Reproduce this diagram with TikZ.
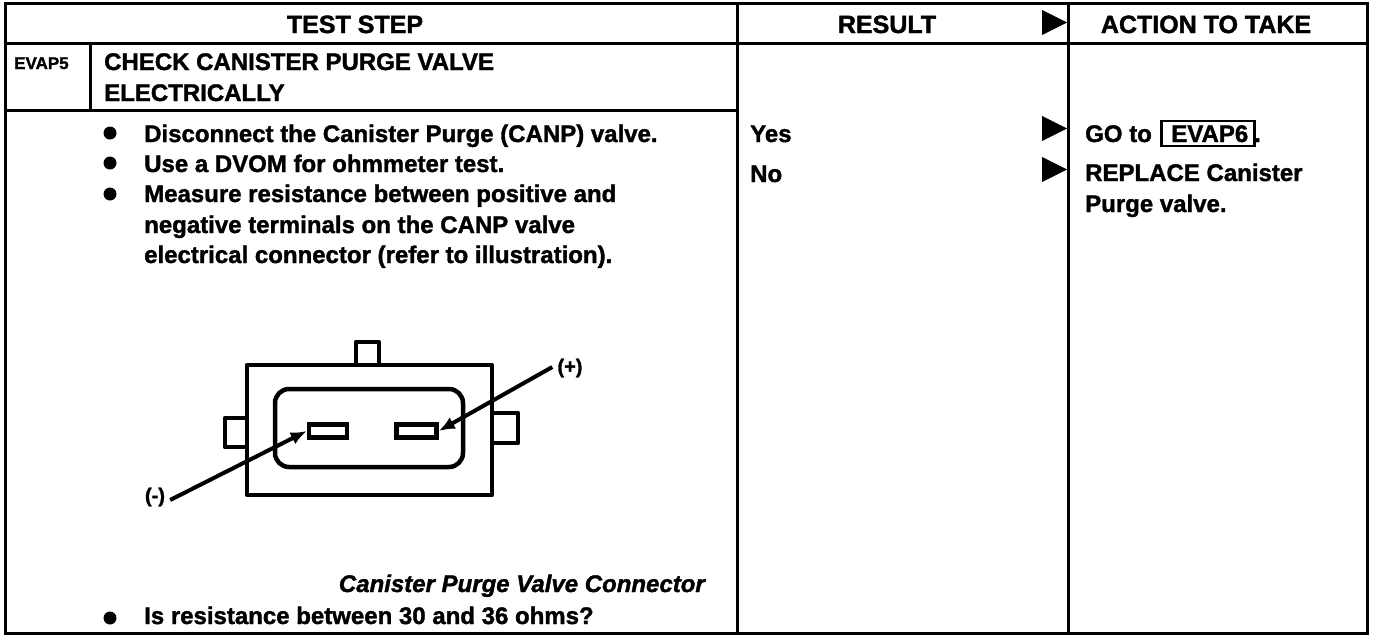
\documentclass[tikz,border=0pt]{standalone}
\usepackage{fontspec}
\setmainfont{Liberation Sans}[BoldFeatures={FakeBold=1.5},BoldItalicFeatures={FakeBold=1.5}]
\usetikzlibrary{arrows.meta}
\tikzset{
  rule/.style={line width=3pt,line cap=rect},
  txt/.style={inner sep=0pt,anchor=base west,font=\fontsize{24}{28}\selectfont\bfseries},
  head/.style={inner sep=0pt,anchor=base,font=\fontsize{25}{28}\selectfont\bfseries},
  bulletmark/.style={circle,fill=black,inner sep=0pt,minimum size=13pt},
  tri/.style={fill=black,draw=none},
  conn/.style={line width=4.5pt,line join=round},
  pin/.style={draw,line width=4.5pt,fill=white,inner sep=0pt,minimum width=38pt,minimum height=13pt},
  term/.style={inner sep=0pt,anchor=center,font=\fontsize{20}{24}\selectfont\bfseries},
  leader/.style={line width=4pt,-{Latex[length=16pt,width=13pt]}},
}
\begin{document}
\begin{tikzpicture}[x=1pt,y=-1pt]
\useasboundingbox (0,0) rectangle (1392,638);
% frame
\draw[rule] (5,3) rectangle (1367,633);
\draw[rule] (5,43) -- (1367,43);
\draw[rule] (737,3) -- (737,633);
\draw[rule] (1068,3) -- (1068,633);
\draw[rule] (5,110) -- (737,110);
\draw[rule] (90,43) -- (90,110);
% header
\node[head] (h1) at (355,33) {TEST STEP};
\node[head] (h2) at (887,33) {RESULT};
\node[head] (h3) at (1206,33) {ACTION TO TAKE};
\fill[tri] (1042,10) -- (1067,22.5) -- (1042,35) -- cycle;
% id
\node[txt,font=\fontsize{17}{20}\selectfont\bfseries] (id) at (14,69) {EVAP5};
\node[txt] (t1) at (104,70) {CHECK CANISTER PURGE VALVE};
\node[txt] (t2) at (104,101) {ELECTRICALLY};
% steps
\node[bulletmark] (b1) at (110,133) {};
\node[bulletmark] (b2) at (110,163) {};
\node[bulletmark] (b3) at (110,194) {};
\node[bulletmark] (b4) at (110,618) {};
\node[txt] (s1) at (144,142) {Disconnect the Canister Purge (CANP) valve.};
\node[txt] (s2) at (144,172) {Use a DVOM for ohmmeter test.};
\node[txt] (s3) at (144,202) {Measure resistance between positive and};
\node[txt] (s4) at (144,233) {negative terminals on the CANP valve};
\node[txt] (s5) at (144,263) {electrical connector (refer to illustration).};
\node[txt,font=\fontsize{24}{28}\selectfont\bfseries\itshape,anchor=base east] (cap) at (705,592) {Canister Purge Valve Connector};
\node[txt] (q) at (144,624) {Is resistance between 30 and 36 ohms?};
% results
\node[txt] (yes) at (750,142) {Yes};
\node[txt] (no) at (750,182) {No};
\fill[tri] (1042,116) -- (1067,128.5) -- (1042,141) -- cycle;
\fill[tri] (1042,157) -- (1067,169.5) -- (1042,182) -- cycle;
% actions
\node[txt] (go) at (1085,142) {GO to};
\node[txt,draw,line width=2.5pt,inner sep=0pt,anchor=base west,text depth=4pt,text height=21pt,minimum width=93pt] (ev) at (1160,142) {\,EVAP6};
\node[txt] (dot) at (1254,142) {.};
\node[txt] (r1) at (1085,181) {REPLACE Canister};
\node[txt] (r2) at (1085,212) {Purge valve.};
% connector
\draw[conn] (356,365) -- (356,342) -- (379,342) -- (379,365);
\draw[conn] (247,418) -- (225,418) -- (225,447) -- (247,447);
\draw[conn] (492,413) -- (518,413) -- (518,443) -- (492,443);
\draw[conn] (247,365) rectangle (492,495);
\draw[conn,rounded corners=14pt] (275,389) rectangle (463,467);
\node[pin,minimum width=38pt] (pl) at (328,431) {};
\node[pin,minimum width=40pt] (pr) at (416.5,431) {};
\node[term] (minus) at (155,497) {(-)};
\node[term] (plus) at (570,368) {(+)};
\coordinate (me) at ([xshift=5pt,yshift=-3pt]minus.east);
\coordinate (pe) at ([xshift=-5pt,yshift=1pt]plus.west);
\draw[leader] (me) -- (pl.west);
\draw[leader] (pe) -- (pr.east);
\end{tikzpicture}
\end{document}
